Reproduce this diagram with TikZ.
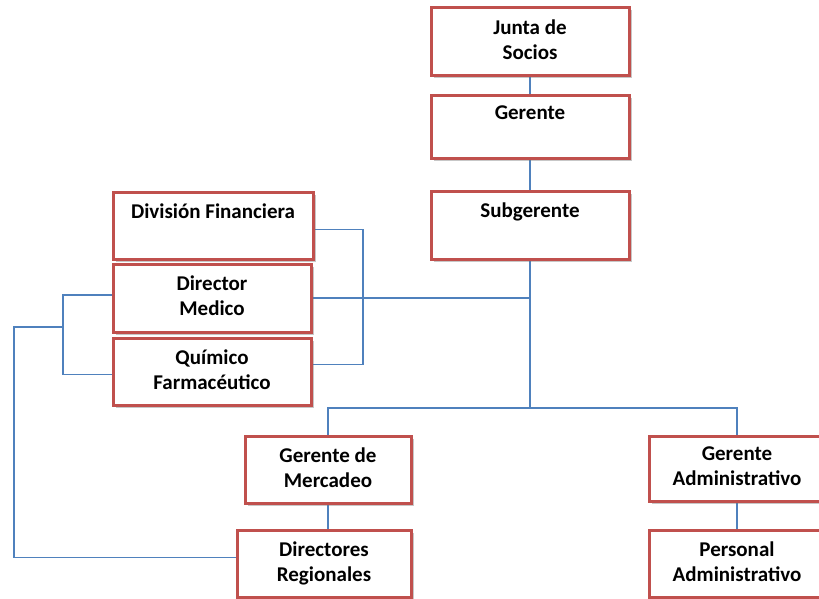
\documentclass[tikz,border=0pt]{standalone}
\usepackage{fontspec}
\setmainfont{Carlito}
\usetikzlibrary{shadows,backgrounds,calc}
\definecolor{boxred}{HTML}{C0504D}
\definecolor{linkblue}{HTML}{4F81BD}
\newcommand{\lift}{\\[-21pt]\mbox{}}
\tikzset{
  orgbox/.style={draw=boxred, line width=3pt, fill=white, rectangle,
    minimum width=#1, inner sep=0pt, align=center,
    font=\fontsize{21}{25}\selectfont\bfseries,
    drop shadow={shadow xshift=2.5pt, shadow yshift=-2.5pt, opacity=0.4, fill=black!55}},
  link/.style={draw=linkblue, line width=1.2pt}
}
\begin{document}
\begin{tikzpicture}[x=1pt,y=-1pt]
\useasboundingbox (0,0) rectangle (819,599);
\node[orgbox=198pt, minimum height=68pt] (junta) at (530,42) {Junta de\\Socios\lift};
\node[orgbox=198pt, minimum height=62pt] (gerente) at (530,127) {Gerente\\\mbox{}\lift};
\node[orgbox=198pt, minimum height=68pt] (sub) at (530,225) {Subgerente\\\mbox{}\lift};
\node[orgbox=200pt, minimum height=67pt] (divfin) at (213,225.5) {División Financiera\\\mbox{}\lift};
\node[orgbox=198pt, minimum height=68pt] (dirmed) at (212,298) {Director\\Medico\lift};
\node[orgbox=198pt, minimum height=67pt] (quim) at (212,371.5) {Químico\\Farmacéutico\lift};
\node[orgbox=166pt, minimum height=67pt] (gmerc) at (328,469.5) {Gerente de\\Mercadeo\lift};
\node[orgbox=174pt, minimum height=67pt] (dirreg) at (324,563.5) {Directores\\Regionales\lift};
\node[orgbox=176pt, minimum height=65pt] (gadm) at (737,468.5) {Gerente\\Administrativo\lift};
\node[orgbox=176pt, minimum height=67pt] (padm) at (737,563.5) {Personal\\Administrativo\lift};
\coordinate (hub) at (530,408);
\coordinate (rbx) at (363,0);
\coordinate (lbx) at (63,0);
\coordinate (lmid) at (63,327);
\coordinate (farx) at (14,0);
\begin{scope}[on background layer]
\fill[white] (0,0) rectangle (819,599);
\draw[link] (junta) -- (gerente);
\draw[link] (gerente) -- (sub);
\draw[link] (sub) -- (hub);
\draw[link] (gmerc.north) |- (hub) -| (gadm.north);
\draw[link] (dirmed.east) -- (dirmed.east -| sub.south);
\draw[link] ($(divfin.east)+(0,4)$) -- ($(divfin.east -| rbx)+(0,4)$) -- ($(quim.east -| rbx)+(0,-7)$) -- ($(quim.east)+(0,-7)$);
\draw[link] ($(dirmed.west)+(0,-3)$) -- ($(dirmed.west -| lbx)+(0,-3)$) -- ($(quim.west -| lbx)+(0,3)$) -- ($(quim.west)+(0,3)$);
\draw[link] (lmid) -- (lmid -| farx) -- ($(dirreg.west -| farx)+(0,-6)$) -- ($(dirreg.west)+(0,-6)$);
\draw[link] (gmerc.south) -- (gmerc.south |- dirreg.north);
\draw[link] (gadm) -- (padm);
\end{scope}
\end{tikzpicture}
\end{document}
